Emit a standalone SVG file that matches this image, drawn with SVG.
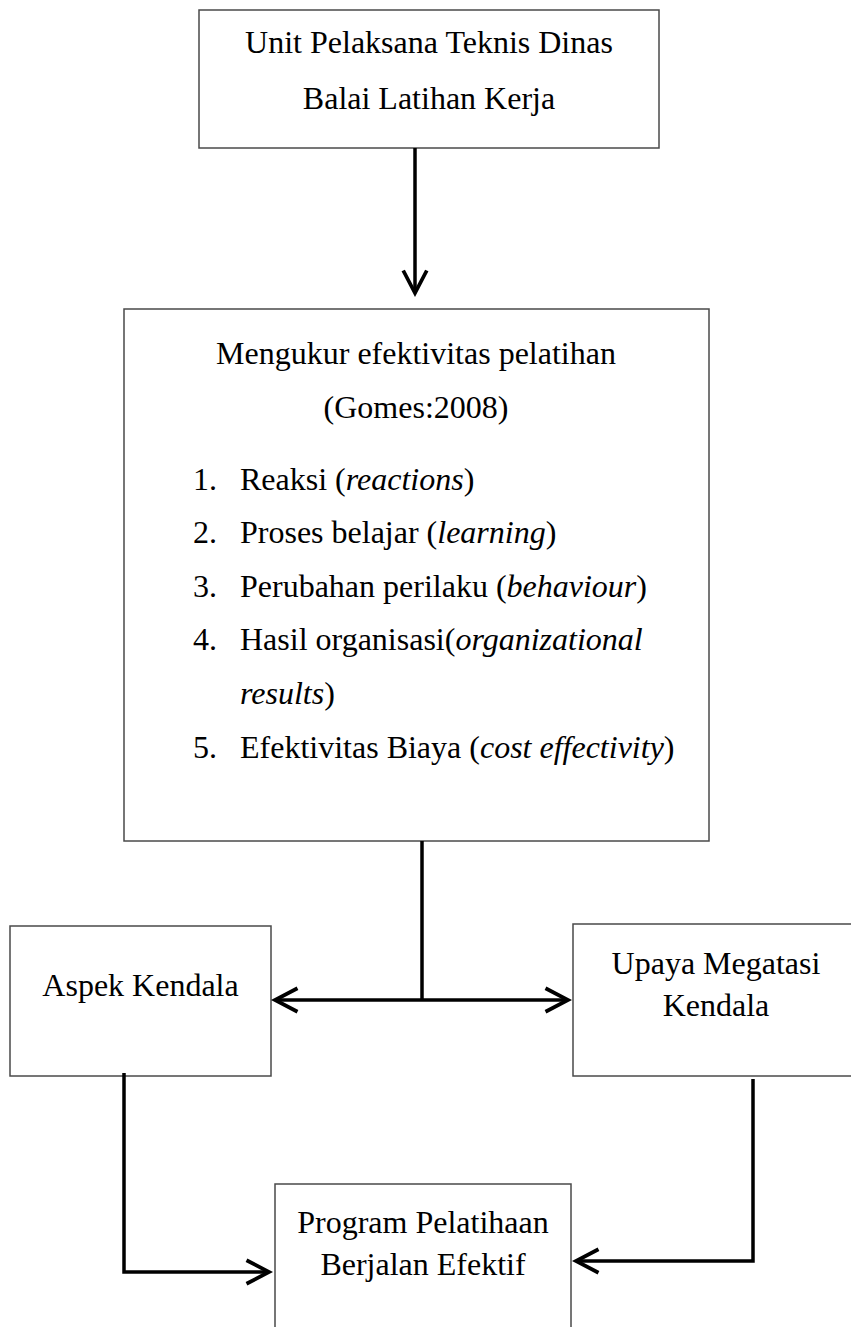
<svg xmlns="http://www.w3.org/2000/svg" width="851" height="1327" viewBox="0 0 851 1327">
<style>
  .box { fill: #fff; stroke: #4a4a4a; stroke-width: 1.5; }
  .t { font-family: "Liberation Serif", "Times New Roman", serif; font-size: 32px; fill: #000; }
  .c { text-anchor: middle; }
  .i { font-style: italic; }
  .conn { fill: none; stroke: #000; stroke-width: 3.5; }
</style>
<defs>
  <marker id="ah" markerUnits="userSpaceOnUse" markerWidth="30" markerHeight="30" viewBox="-24 -14 28 28" refX="0" refY="0" orient="auto-start-reverse">
    <path d="M-21,-11 L0,0 L-21,11" fill="none" stroke="#000" stroke-width="3.5"/>
  </marker>
</defs>
<rect width="851" height="1327" fill="#fff"/>

<g id="node-unit">
  <rect class="box" x="199" y="10" width="460" height="138"/>
  <text class="t c" x="429" y="53">Unit Pelaksana Teknis Dinas</text>
  <text class="t c" x="429" y="109">Balai Latihan Kerja</text>
</g>

<g id="node-mengukur">
  <rect class="box" x="124" y="309" width="585" height="532"/>
  <text class="t c" x="416" y="364">Mengukur efektivitas pelatihan</text>
  <text class="t c" x="416" y="418">(Gomes:2008)</text>
  <text class="t" x="193" y="490">1.</text>
  <text class="t" x="240" y="490">Reaksi (<tspan class="i">reactions</tspan>)</text>
  <text class="t" x="193" y="543">2.</text>
  <text class="t" x="240" y="543">Proses belajar (<tspan class="i">learning</tspan>)</text>
  <text class="t" x="193" y="597">3.</text>
  <text class="t" x="240" y="597">Perubahan perilaku (<tspan class="i">behaviour</tspan>)</text>
  <text class="t" x="193" y="650">4.</text>
  <text class="t" x="240" y="650">Hasil organisasi(<tspan class="i">organizational</tspan></text>
  <text class="t" x="240" y="704"><tspan class="i">results</tspan>)</text>
  <text class="t" x="193" y="758">5.</text>
  <text class="t" x="240" y="758">Efektivitas Biaya (<tspan class="i">cost effectivity</tspan>)</text>
</g>

<g id="node-aspek">
  <rect class="box" x="10" y="926" width="261" height="150"/>
  <text class="t c" x="140.5" y="996">Aspek Kendala</text>
</g>

<g id="node-upaya">
  <rect class="box" x="573" y="924" width="290" height="152"/>
  <text class="t c" x="716" y="974">Upaya Megatasi</text>
  <text class="t c" x="716" y="1016">Kendala</text>
</g>

<g id="node-program">
  <rect class="box" x="275" y="1184" width="296" height="160"/>
  <text class="t c" x="423" y="1233">Program Pelatihaan</text>
  <text class="t c" x="423" y="1275">Berjalan Efektif</text>
</g>

<g id="connectors">
  <path class="conn" d="M415,148 L415,293" marker-end="url(#ah)"/>
  <path class="conn" d="M422,841 L422,1000"/>
  <path class="conn" d="M275,1000 L568,1000" marker-start="url(#ah)" marker-end="url(#ah)"/>
  <path class="conn" d="M124,1073 L124,1272 L269,1272" marker-end="url(#ah)"/>
  <path class="conn" d="M753,1079 L753,1261 L576,1261" marker-end="url(#ah)"/>
</g>
</svg>
